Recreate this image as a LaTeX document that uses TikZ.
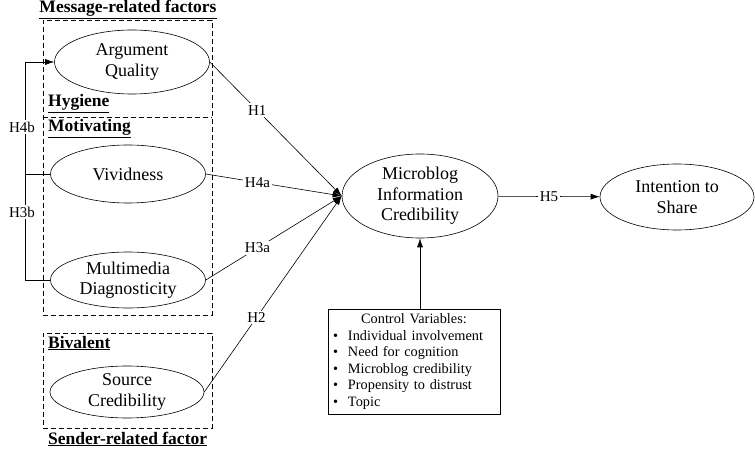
\documentclass[tikz,border=0pt]{standalone}
\usepackage{fontspec}
\setmainfont{Liberation Serif}
\usetikzlibrary{positioning, shapes.geometric, arrows.meta}
\tikzset{construct/.style={draw, ellipse, line width=0.6pt, inner sep=0pt, align=center, font=\fontsize{18}{20.5}\selectfont},
group/.style={draw, dash pattern=on 5pt off 3pt, line width=0.6pt, inner sep=0pt},
factor/.style={inner sep=0pt, font=\fontsize{17.5}{20}\selectfont\bfseries},
hyp/.style={fill=white, inner sep=2pt, font=\fontsize{15}{17}\selectfont},
line/.style={-{Latex[length=9pt,width=6pt]}, line width=0.6pt},
link/.style={line width=0.6pt},
cvbox/.style={draw, line width=0.6pt, text width=162pt, inner xsep=5pt, minimum height=105pt, align=left, font=\fontsize{14.3}{16.5}\selectfont}
}
\newcommand{\cvitem}[1]{\makebox[15pt][l]{\textbullet}#1\par}

\begin{document}
\begin{tikzpicture}[x=1pt, y=-1pt]
\useasboundingbox (0,0) rectangle (755,449);
% factor groups
\node[group, minimum width=169pt, minimum height=295pt] (msg) at (127.5,167.5) {};
\node[group, minimum width=169pt, minimum height=95pt] (snd) at (127.5,380.5) {};
\coordinate (div) at (0,117);
\draw[group] (msg.west |- div) -- (msg.east |- div);

\node[factor, anchor=base] (mrf) at (128,13) {\underline{Message-related factors}};
\node[factor, anchor=base west] (hyg) at (48,107) {\underline{Hygiene}};
\node[factor, anchor=base west] (mot) at (48,132) {\underline{Motivating}};
\node[factor, anchor=base west] (biv) at (48,348) {\underline{Bivalent}};
\node[factor, anchor=base west] (srf) at (48,444) {\underline{Sender-related factor}};

% constructs
\node[construct, minimum width=155pt, minimum height=64pt] (aq) at (132,62) {Argument\\Quality};
\node[construct, minimum width=155pt, minimum height=58pt] (viv) at (128,174) {Vividness};
\node[construct, minimum width=155pt, minimum height=56pt] (mmd) at (128,280) {Multimedia\\Diagnosticity};
\node[construct, minimum width=154pt, minimum height=52pt] (src) at (127,392) {Source\\Credibility};
\node[construct, minimum width=156pt, minimum height=84pt] (mic) at (420,196) {Microblog\\Information\\Credibility};
\node[construct, minimum width=154pt, minimum height=66pt] (its) at (677,197) {Intention to\\Share};

\node[cvbox] (cv) at (414,361.5) {{\centering Control Variables:\par}\cvitem{Individual involvement}\cvitem{Need for cognition}\cvitem{Microblog credibility}\cvitem{Propensity to distrust}\cvitem{Topic}};

% hypotheses
\draw[line] (aq.east) -- node[hyp, pos=0.36] {H1} (mic.west);
\draw[line] (viv.east) -- node[hyp, pos=0.38] {H4a} (mic.west);
\draw[line] (mmd.east) -- node[hyp, pos=0.38] {H3a} (mic.west);
\draw[line] (src.east) -- node[hyp, pos=0.38] {H2} (mic.west);
\draw[line] (mic) -- node[hyp] {H5} (its);
\draw[line] (cv.north -| mic.south) -- (mic.south);

% moderating paths
\coordinate (bus) at (25,0);
\draw[line] (mmd.west) -- (mmd.west -| bus) -- (aq.west -| bus) -- (aq.west);
\draw[link] (viv.west) -- (viv.west -| bus);
\node[hyp] (h4b) at (22,127) {H4b};
\node[hyp] (h3b) at (22,212) {H3b};
\end{tikzpicture}
\end{document}
